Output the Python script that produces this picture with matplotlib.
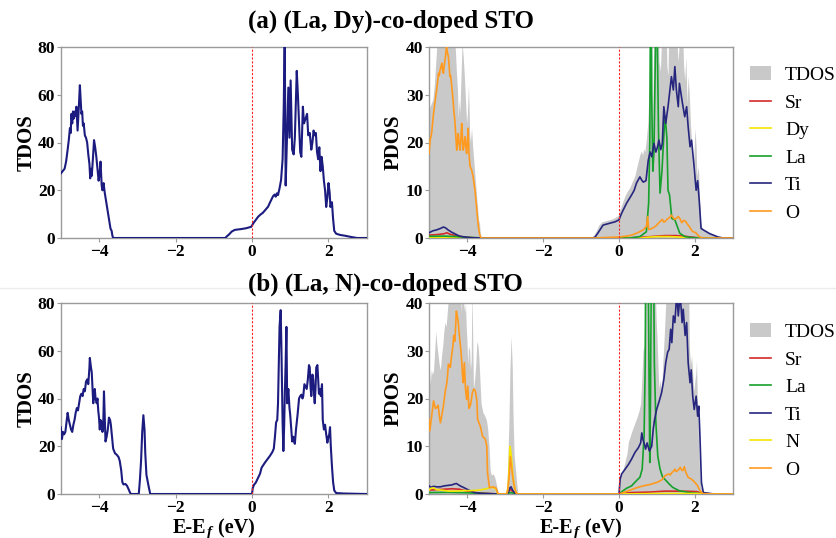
import numpy as np
import matplotlib
matplotlib.use("Agg")
import matplotlib.pyplot as plt
from matplotlib.lines import Line2D
from matplotlib.patches import Patch

plt.rcParams["font.family"] = ["Liberation Serif", "DejaVu Serif"]
plt.rcParams["axes.unicode_minus"] = True

# ---------------- (a) (La, Dy)-co-doped STO ----------------
tdos_a = [(-5.00, 27), (-4.95, 28), (-4.90, 29), (-4.86, 32), (-4.82, 37), (-4.79, 41), (-4.76, 46),
          (-4.74, 44), (-4.72, 52), (-4.70, 48), (-4.68, 53), (-4.66, 50), (-4.63, 53), (-4.61, 51),
          (-4.59, 55), (-4.56, 45), (-4.53, 54), (-4.50, 64), (-4.48, 58), (-4.46, 52), (-4.44, 53),
          (-4.42, 47), (-4.40, 48), (-4.37, 43), (-4.34, 42), (-4.31, 40), (-4.28, 35), (-4.25, 31),
          (-4.23, 25), (-4.21, 29), (-4.19, 26), (-4.16, 33), (-4.13, 41), (-4.10, 38), (-4.07, 34),
          (-4.04, 29), (-4.01, 24), (-3.99, 26), (-3.96, 32), (-3.93, 22), (-3.91, 20), (-3.88, 23),
          (-3.85, 19), (-3.82, 16), (-3.78, 12), (-3.74, 8), (-3.70, 4), (-3.67, 3), (-3.65, 1),
          (-3.63, 0), (-0.70, 0), (-0.65, 0.8), (-0.60, 1.5), (-0.53, 2.7), (-0.45, 3.4), (-0.30, 3.7),
          (-0.15, 4.1), (-0.02, 4.7), (0.04, 6.3), (0.10, 7.6), (0.16, 8.9), (0.22, 9.8), (0.28, 10.5),
          (0.34, 11.6), (0.42, 13.1), (0.48, 15.2), (0.55, 17.5), (0.59, 18.2), (0.62, 17.3),
          (0.65, 18.7), (0.68, 18.0), (0.72, 20.8), (0.76, 24.3), (0.80, 33), (0.83, 55), (0.855, 85),
          (0.88, 22), (0.92, 45), (0.95, 63), (0.98, 42), (1.01, 66), (1.05, 37), (1.09, 35),
          (1.12, 42), (1.17, 70), (1.20, 60), (1.23, 48), (1.26, 36), (1.29, 34), (1.33, 55),
          (1.36, 48), (1.40, 50), (1.44, 52), (1.47, 43), (1.51, 44), (1.55, 37), (1.58, 40),
          (1.61, 45), (1.64, 43), (1.67, 44), (1.70, 36), (1.73, 33), (1.76, 38), (1.79, 28),
          (1.82, 34), (1.85, 30), (1.88, 24), (1.91, 20), (1.94, 13), (1.97, 17), (2.00, 23),
          (2.03, 19), (2.05, 13), (2.09, 15), (2.12, 8), (2.15, 3), (2.20, 1.8), (2.30, 1.3),
          (2.45, 0.9), (2.60, 0.4), (2.75, 0), (3.00, 0)]

sr_a = [(-5.00, 0.6), (-4.80, 0.7), (-4.60, 0.9), (-4.53, 1.1), (-4.45, 0.8), (-4.30, 0.5),
        (-4.10, 0.2), (-3.80, 0.05), (-3.63, 0), (0.30, 0.05), (0.70, 0.2), (0.85, 0.3), (1.00, 0.4),
        (1.20, 0.5), (1.50, 0.5), (1.70, 0.4), (1.90, 0.2), (2.10, 0.05), (2.30, 0), (3.00, 0)]

dy_a = [(-5.00, 0.1), (-4.50, 0.15), (-4.00, 0.05), (-3.63, 0), (0.60, 0), (0.80, 0.2), (1.00, 0.3),
        (1.30, 0.3), (1.60, 0.2), (1.80, 0.05), (2.00, 0), (3.00, 0)]

la_a = [(-5.00, 0.35), (-4.60, 0.4), (-4.30, 0.3), (-4.00, 0.15), (-3.70, 0.05), (-3.63, 0),
        (0.30, 0), (0.55, 0.3), (0.72, 1.3), (0.78, 7.3), (0.81, 20), (0.835, 60), (0.86, 30),
        (0.89, 14), (0.92, 18), (0.96, 40), (0.985, 60), (1.01, 40), (1.04, 22), (1.08, 9.4),
        (1.13, 14), (1.17, 20), (1.21, 25.4), (1.24, 23), (1.26, 21), (1.29, 10), (1.33, 9),
        (1.39, 4.1), (1.47, 3.8), (1.53, 2.5), (1.60, 1.0), (1.73, 0.3), (1.90, 0.1), (2.10, 0),
        (3.00, 0)]

ti_a = [(-5.00, 1.1), (-4.90, 1.5), (-4.80, 1.7), (-4.70, 2.0), (-4.62, 2.3), (-4.56, 2.1),
        (-4.50, 1.7), (-4.40, 1.2), (-4.30, 0.8), (-4.20, 0.4), (-4.05, 0.2), (-3.90, 0.05),
        (-3.63, 0), (-0.70, 0), (-0.63, 0.2), (-0.55, 1.1), (-0.42, 2.7), (-0.24, 3.1), (-0.10, 3.4),
        (0.00, 3.8), (0.07, 5.2), (0.20, 7.3), (0.33, 9.0), (0.40, 10.0), (0.46, 11.5), (0.55, 12.8),
        (0.60, 12.1), (0.64, 11.7), (0.71, 12.0), (0.77, 16.3), (0.82, 18.0), (0.86, 17.0),
        (0.92, 19.8), (0.97, 18.0), (1.01, 19.0), (1.05, 20.5), (1.10, 18.5), (1.14, 19.8),
        (1.18, 27.5), (1.23, 24.0), (1.29, 27.5), (1.34, 31.0), (1.38, 33.8), (1.43, 31.0),
        (1.47, 35.9), (1.51, 31.0), (1.56, 27.5), (1.59, 32.4), (1.63, 30.3), (1.67, 28.2),
        (1.73, 25.4), (1.78, 27.5), (1.82, 23.3), (1.87, 19.1), (1.91, 20.5), (1.96, 16.3),
        (2.03, 10.0), (2.07, 12.0), (2.11, 8.0), (2.16, 2.0), (2.26, 1.5), (2.39, 0.9), (2.61, 0.2),
        (2.74, 0), (3.00, 0)]

o_a = [(-5.00, 17.7), (-4.97, 20.5), (-4.93, 22), (-4.89, 25.4), (-4.85, 28), (-4.80, 31),
       (-4.77, 33), (-4.75, 34.5), (-4.73, 34), (-4.71, 35.2), (-4.68, 36), (-4.66, 36.6),
       (-4.64, 35), (-4.62, 34.5), (-4.60, 36), (-4.58, 37.2), (-4.56, 38.5), (-4.54, 40),
       (-4.52, 39), (-4.49, 38), (-4.47, 36), (-4.45, 33.8), (-4.43, 34), (-4.41, 32.4),
       (-4.38, 30), (-4.36, 28.2), (-4.34, 26), (-4.32, 24.7), (-4.30, 22), (-4.27, 18.4),
       (-4.25, 20), (-4.23, 21.9), (-4.21, 20), (-4.18, 18.4), (-4.16, 21), (-4.14, 24),
       (-4.12, 21), (-4.10, 18.4), (-4.07, 20), (-4.05, 21.2), (-4.03, 19), (-4.01, 17.7),
       (-3.99, 20), (-3.97, 23), (-3.95, 18), (-3.92, 15), (-3.88, 14.3), (-3.84, 12.9),
       (-3.79, 10), (-3.75, 6.6), (-3.71, 3.1), (-3.68, 1.2), (-3.66, 0.6), (-3.63, 0),
       (-0.60, 0), (0.00, 0.2), (0.20, 0.4), (0.33, 0.6), (0.49, 1.1), (0.64, 1.7), (0.72, 2.4),
       (0.755, 4.5), (0.78, 1.8), (0.84, 1.9), (0.89, 2.1), (0.97, 2.5), (1.05, 3.2), (1.10, 3.6),
       (1.14, 3.9), (1.18, 3.3), (1.22, 3.5), (1.26, 3.9), (1.30, 4.1), (1.34, 4.4), (1.38, 4.8),
       (1.42, 4.3), (1.47, 3.9), (1.52, 4.2), (1.56, 4.5), (1.60, 4.1), (1.65, 3.2), (1.70, 3.7),
       (1.75, 3.5), (1.80, 2.9), (1.84, 2.5), (1.93, 1.4), (2.02, 1.1), (2.11, 0.3), (2.20, 0),
       (3.00, 0)]

# ---------------- (b) (La, N)-co-doped STO ----------------
tdos_b = [(-5.00, 28), (-4.97, 23), (-4.94, 26), (-4.91, 25), (-4.88, 26), (-4.85, 30), (-4.82, 34),
          (-4.79, 31), (-4.76, 29), (-4.73, 27), (-4.70, 26), (-4.67, 29), (-4.64, 31), (-4.61, 34),
          (-4.58, 36), (-4.55, 35), (-4.52, 38), (-4.49, 41), (-4.46, 42), (-4.43, 41), (-4.40, 44),
          (-4.37, 43), (-4.34, 47), (-4.31, 48), (-4.28, 46), (-4.25, 53), (-4.24, 57), (-4.21, 53),
          (-4.19, 51), (-4.17, 44), (-4.15, 38), (-4.13, 42), (-4.11, 44), (-4.09, 40), (-4.06, 38),
          (-4.04, 40), (-4.02, 35), (-4.00, 32), (-3.98, 27), (-3.96, 31), (-3.93, 30), (-3.91, 26),
          (-3.89, 28), (-3.87, 43), (-3.85, 33), (-3.83, 22), (-3.80, 24), (-3.77, 27), (-3.74, 32),
          (-3.71, 31), (-3.69, 29), (-3.66, 24), (-3.63, 19), (-3.58, 17), (-3.54, 16.5),
          (-3.49, 15.5), (-3.46, 14), (-3.42, 10), (-3.39, 5), (-3.36, 4), (-3.31, 4.2), (-3.27, 3.5),
          (-3.24, 2.5), (-3.20, 1), (-3.17, 0), (-2.96, 0), (-2.93, 6), (-2.90, 14), (-2.87, 26),
          (-2.84, 33), (-2.81, 27), (-2.79, 17), (-2.76, 8), (-2.73, 5.5), (-2.70, 3), (-2.66, 0),
          (0.00, 0), (0.02, 2.5), (0.05, 3.8), (0.10, 4.8), (0.15, 6.5), (0.21, 8.5), (0.25, 11),
          (0.30, 12.2), (0.34, 13.2), (0.40, 14.5), (0.47, 16), (0.53, 17.5), (0.57, 19), (0.60, 24),
          (0.63, 30), (0.66, 31), (0.68, 38), (0.70, 55), (0.72, 70), (0.75, 77), (0.77, 60),
          (0.80, 30), (0.82, 18), (0.84, 28), (0.86, 43), (0.88, 55), (0.90, 70), (0.92, 38),
          (0.95, 44), (0.98, 36), (1.00, 33), (1.03, 26), (1.05, 22), (1.08, 24), (1.10, 22),
          (1.12, 21), (1.15, 27), (1.19, 33), (1.23, 40), (1.26, 41), (1.29, 41.6), (1.32, 40),
          (1.34, 41), (1.37, 46), (1.40, 45), (1.43, 44), (1.46, 48), (1.49, 54), (1.51, 53),
          (1.53, 45), (1.55, 41), (1.58, 50), (1.60, 48), (1.62, 42), (1.64, 38), (1.66, 44),
          (1.68, 53), (1.71, 54), (1.73, 48), (1.75, 42), (1.77, 44), (1.80, 41), (1.83, 46),
          (1.85, 31), (1.88, 27), (1.91, 29), (1.94, 25), (1.97, 21.5), (2.00, 24), (2.02, 25),
          (2.04, 28), (2.06, 20), (2.09, 11.7), (2.12, 5), (2.15, 1.5), (2.20, 0.4), (2.40, 0.2),
          (2.70, 0.1), (3.00, 0)]

sr_b = [(-5.00, 0.8), (-4.80, 0.9), (-4.60, 1.0), (-4.40, 1.1), (-4.20, 1.0), (-4.00, 0.6),
        (-3.80, 0.3), (-3.50, 0.15), (-3.17, 0), (-2.96, 0), (-2.86, 1.0), (-2.76, 0.2), (-2.66, 0),
        (0.00, 0), (0.30, 0.3), (0.80, 0.4), (1.20, 0.6), (1.70, 0.6), (2.05, 0.5), (2.18, 0.1),
        (2.30, 0), (3.00, 0)]

la_b = [(-5.00, 0.3), (-4.50, 0.35), (-4.00, 0.25), (-3.50, 0.1), (-3.17, 0), (-2.96, 0),
        (-2.86, 0.3), (-2.66, 0), (0.00, 0), (0.11, 0.7), (0.20, 1.2), (0.33, 1.7), (0.46, 2.8),
        (0.55, 3.5), (0.61, 5.2), (0.66, 12.1), (0.69, 27.5), (0.71, 60), (0.74, 70), (0.76, 60),
        (0.79, 25), (0.81, 6.6), (0.83, 20.5), (0.86, 60), (0.88, 70), (0.90, 60), (0.93, 27.5),
        (0.97, 15), (1.02, 8), (1.08, 5.2), (1.15, 3.5), (1.24, 2.8), (1.32, 2.1), (1.41, 1.4),
        (1.58, 0.7), (1.84, 0.3), (2.10, 0.1), (2.30, 0), (3.00, 0)]

ti_b = [(-5.00, 1.7), (-4.95, 1.4), (-4.88, 1.6), (-4.80, 1.5), (-4.70, 1.5), (-4.60, 1.7),
        (-4.50, 1.8), (-4.40, 1.9), (-4.33, 2.1), (-4.28, 2.2), (-4.24, 2.0), (-4.18, 1.7),
        (-4.10, 1.4), (-4.00, 1.0), (-3.90, 0.6), (-3.80, 0.3), (-3.60, 0.1), (-3.17, 0),
        (-2.96, 0), (-2.91, 0.4), (-2.87, 1.3), (-2.84, 1.5), (-2.80, 0.8), (-2.74, 0.2), (-2.66, 0),
        (0.00, 0), (0.03, 3.1), (0.07, 4.2), (0.16, 5.2), (0.25, 6.2), (0.33, 7.3), (0.42, 8.7),
        (0.51, 9.7), (0.57, 10.7), (0.60, 12.8), (0.63, 11.4), (0.67, 10.4), (0.70, 9.4),
        (0.74, 10.7), (0.80, 9.0), (0.86, 10.0), (0.90, 13.5), (0.93, 15.3), (0.99, 17.7),
        (1.06, 19.5), (1.12, 21.2), (1.18, 24.0), (1.23, 27.5), (1.28, 29.7), (1.32, 30.3),
        (1.36, 34.5), (1.39, 31.7), (1.43, 37.3), (1.47, 35.9), (1.52, 42), (1.56, 37.3),
        (1.61, 42), (1.66, 35.9), (1.69, 38.7), (1.74, 33.2), (1.78, 35.9), (1.82, 27.5),
        (1.87, 23.3), (1.90, 26), (1.94, 20.5), (1.98, 17.7), (2.03, 20.5), (2.07, 16.3),
        (2.10, 18.4), (2.13, 12.1), (2.17, 2.4), (2.22, 0.3), (2.50, 0), (3.00, 0)]

n_b = [(-5.00, 0.8), (-4.95, 1.2), (-4.88, 1.3), (-4.80, 0.9), (-4.65, 0.8), (-4.50, 0.6),
       (-4.30, 0.6), (-4.10, 0.7), (-3.90, 0.7), (-3.70, 0.8), (-3.55, 1.0), (-3.48, 1.1),
       (-3.40, 1.4), (-3.30, 1.3), (-3.24, 1.1), (-3.19, 0.1), (-3.17, 0), (-2.96, 0), (-2.93, 1.0),
       (-2.91, 2.5), (-2.89, 6), (-2.87, 10), (-2.85, 9), (-2.83, 7.5), (-2.80, 4.5), (-2.77, 2.5),
       (-2.74, 1.0), (-2.70, 0.2), (-2.66, 0), (0.00, 0), (1.00, 0.1), (2.10, 0.1), (2.30, 0),
       (3.00, 0)]

o_b = [(-5.00, 15.6), (-4.98, 13.2), (-4.95, 15), (-4.92, 17), (-4.88, 19.5), (-4.85, 18.5),
       (-4.83, 17.9), (-4.79, 18.2), (-4.76, 18.6), (-4.73, 16.5), (-4.70, 14.9), (-4.66, 16.6),
       (-4.62, 18.5), (-4.57, 21.6), (-4.53, 23.3), (-4.51, 25), (-4.49, 27.2), (-4.46, 26.8),
       (-4.44, 26.5), (-4.42, 28), (-4.40, 29.3), (-4.37, 31), (-4.35, 33.2), (-4.32, 32),
       (-4.30, 35), (-4.28, 38.3), (-4.25, 37), (-4.23, 35.9), (-4.21, 34), (-4.19, 32.4),
       (-4.16, 30), (-4.14, 27.9), (-4.12, 25), (-4.10, 23.3), (-4.07, 27.5), (-4.04, 22),
       (-4.01, 19.8), (-3.98, 22.6), (-3.95, 17.9), (-3.91, 18.6), (-3.88, 20), (-3.86, 21.2),
       (-3.82, 22), (-3.78, 21.6), (-3.74, 19.5), (-3.72, 15.6), (-3.65, 14.2), (-3.59, 12.1),
       (-3.52, 11.5), (-3.48, 10.1), (-3.46, 4.5), (-3.41, 1.3), (-3.33, 1.5), (-3.24, 1.3),
       (-3.19, 0.2), (-3.17, 0), (-2.96, 0), (-2.93, 0.6), (-2.89, 3.7), (-2.86, 7.8),
       (-2.83, 5.9), (-2.79, 3.1), (-2.74, 1.0), (-2.70, 0.2), (-2.66, 0), (0.00, 0), (0.11, 0.3),
       (0.29, 0.8), (0.46, 1.3), (0.64, 1.7), (0.82, 2.0), (0.99, 2.4), (1.12, 2.9), (1.21, 3.8),
       (1.30, 4.2), (1.35, 4.0), (1.39, 4.5), (1.44, 4.8), (1.47, 5.2), (1.51, 4.7), (1.54, 4.9),
       (1.58, 5.2), (1.61, 5.6), (1.65, 5.0), (1.68, 4.9), (1.72, 5.7), (1.76, 4.5), (1.82, 3.5),
       (1.91, 3.1), (2.00, 2.4), (2.07, 1.7), (2.13, 0.7), (2.20, 0.1), (2.40, 0), (3.00, 0)]

titles = ["(a) (La, Dy)-co-doped STO", "(b) (La, N)-co-doped STO"]
tdos_ticks = [0, 20, 40, 60, 80]
pdos_ticks = [0, 10, 20, 30, 40]
energy_ticks = [-4, -2, 0, 2]

panels = [
    (tdos_a, [("Sr", sr_a, "#d42a2a"), ("Dy", dy_a, "#f5e600"), ("La", la_a, "#16a02c"),
              ("Ti", ti_a, "#26267e"), ("O", o_a, "#ff9a1f")]),
    (tdos_b, [("Sr", sr_b, "#d42a2a"), ("La", la_b, "#16a02c"), ("Ti", ti_b, "#26267e"),
              ("N", n_b, "#f5e600"), ("O", o_b, "#ff9a1f")]),
]

W, H = 837, 538
fig = plt.figure(figsize=(W / 100, H / 100), dpi=100)


def frac_box(x0, y0, x1, y1):
    return [x0 / W, 1 - y1 / H, (x1 - x0) / W, (y1 - y0) / H]


row_tops = [47, 303]
row_h = 191
spine_col = "#9a9a9a"
tick_font = dict(family="Liberation Serif", weight="bold", size=12.5)

# faint separator running behind the second title
fig.add_artist(Line2D([0, 1], [1 - 288 / H, 1 - 288 / H], color="#ececec", lw=1.0,
                      transform=fig.transFigure, zorder=0))

for r, (tdos, parts) in enumerate(panels):
    top = row_tops[r]
    axl = fig.add_axes(frac_box(60.75, top, 366.75, top + row_h))
    axr = fig.add_axes(frac_box(429, top, 733, top + row_h))

    t = np.array(tdos)
    axl.plot(t[:, 0], t[:, 1], color="#1c1c80", lw=1.5, zorder=3)
    axl.set_ylim(0, 80)
    axl.set_yticks(tdos_ticks)
    axl.set_ylabel("TDOS", fontsize=15, fontweight="bold", labelpad=1)

    axr.fill_between(t[:, 0], 0, t[:, 1], color="#c9c9c9", lw=0, zorder=1, label="TDOS")
    handles = [Patch(facecolor="#c9c9c9", edgecolor="none", label="TDOS")]
    for name, data, col in parts:
        d = np.array(data)
        ln, = axr.plot(d[:, 0], d[:, 1], color=col, lw=1.2, zorder=3, label=name)
        handles.append(ln)
    axr.set_ylim(0, 40)
    axr.set_yticks(pdos_ticks)
    axr.set_ylabel("PDOS", fontsize=15, fontweight="bold", labelpad=2)

    for ax in (axl, axr):
        ax.set_xlim(-5, 3)
        ax.set_xticks(energy_ticks)
        ax.axvline(0, color="#ff2020", lw=0.8, ls=(0, (2, 1.5)), zorder=4)
        for s in ax.spines.values():
            s.set_color(spine_col)
            s.set_linewidth(1.0)
        ax.tick_params(direction="out", length=3, width=0.8, color=spine_col, pad=1)
        for lab in ax.get_xticklabels() + ax.get_yticklabels():
            lab.set_fontproperties(tick_font)

    leg_top = [66, 323][r]
    fig.legend(handles=handles, loc="upper left",
               bbox_to_anchor=(750 / W, 1 - leg_top / H), frameon=False,
               prop=dict(family="Liberation Serif", size=14),
               handlelength=1.1, handleheight=0.75, handletextpad=0.7,
               labelspacing=0.5, borderpad=0, borderaxespad=0)

    fig.text(248 / W, 1 - [21, 284][r] / H, titles[r], ha="left", va="center",
             fontsize=18, fontweight="bold")

# energy axis labels "E-E_f (eV)" built from pieces so the subscript stays compact
fig.canvas.draw()
renderer = fig.canvas.get_renderer()
base_y = 1 - 533 / H
for xc in ((60.75 + 366.75) / 2, (429 + 733) / 2):
    pieces = [("E-E", dict(fontsize=14.5, fontweight="bold"), 0),
              ("f", dict(fontsize=11, fontweight="bold", fontstyle="italic"), -3),
              (" (eV)", dict(fontsize=14.5, fontweight="bold"), 0)]
    arts, widths = [], []
    for txt, kw, dy in pieces:
        a = fig.text(0, base_y + dy / H, txt, ha="left", va="baseline", **kw)
        widths.append(a.get_window_extent(renderer).width + (2 if txt == "f" else 0))
        arts.append(a)
    x = xc - sum(widths) / 2
    for a, w in zip(arts, widths):
        a.set_x((x + (1 if a.get_text() == "f" else 0)) / W)
        x += w

fig.savefig("out.png", dpi=100)
